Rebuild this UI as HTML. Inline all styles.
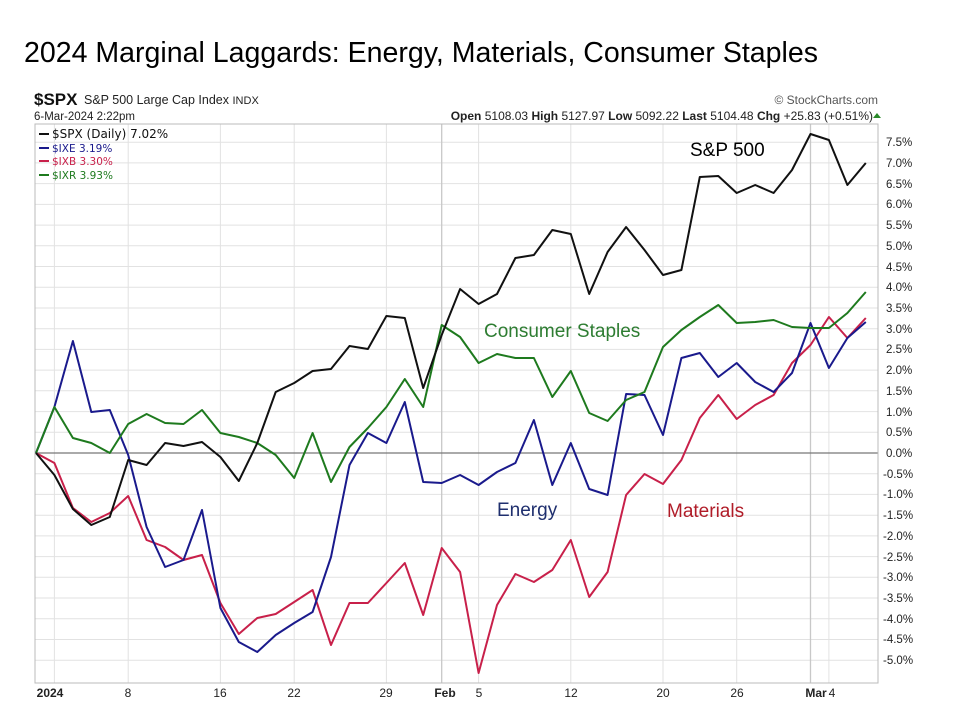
<!DOCTYPE html>
<html><head><meta charset="utf-8"><style>
html,body{margin:0;padding:0;background:#fff;width:960px;height:720px;overflow:hidden}
svg{display:block}
</style></head><body>
<svg width="960" height="720" viewBox="0 0 960 720" xmlns="http://www.w3.org/2000/svg" font-family="Liberation Sans, sans-serif">
<text x="24" y="62" font-size="29" fill="#000" textLength="794" lengthAdjust="spacingAndGlyphs">2024 Marginal Laggards: Energy, Materials, Consumer Staples</text>
<text x="34" y="105" font-size="17" font-weight="bold" fill="#111">$SPX</text>
<text x="84" y="104" font-size="12.5" fill="#222">S&amp;P 500 Large Cap Index <tspan font-size="11">INDX</tspan></text>
<text x="34" y="120" font-size="11.5" fill="#222">6-Mar-2024 2:22pm</text>
<text x="873" y="120" font-size="12" fill="#222" text-anchor="end"><tspan font-weight="bold">Open</tspan> 5108.03 <tspan font-weight="bold">High</tspan> 5127.97 <tspan font-weight="bold">Low</tspan> 5092.22 <tspan font-weight="bold">Last</tspan> 5104.48 <tspan font-weight="bold">Chg</tspan> +25.83 (+0.51%)</text>
<polygon points="873,118 881,118 877,113" fill="#2a8a2a"/>
<text x="878" y="104" font-size="12" fill="#555" text-anchor="end">© StockCharts.com</text>
<g stroke="#e2e2e2" stroke-width="1">
<line x1="35" x2="878" y1="142.2" y2="142.2"/><line x1="35" x2="878" y1="162.9" y2="162.9"/><line x1="35" x2="878" y1="183.6" y2="183.6"/><line x1="35" x2="878" y1="204.4" y2="204.4"/><line x1="35" x2="878" y1="225.1" y2="225.1"/><line x1="35" x2="878" y1="245.8" y2="245.8"/><line x1="35" x2="878" y1="266.5" y2="266.5"/><line x1="35" x2="878" y1="287.2" y2="287.2"/><line x1="35" x2="878" y1="308" y2="308"/><line x1="35" x2="878" y1="328.7" y2="328.7"/><line x1="35" x2="878" y1="349.4" y2="349.4"/><line x1="35" x2="878" y1="370.1" y2="370.1"/><line x1="35" x2="878" y1="390.8" y2="390.8"/><line x1="35" x2="878" y1="411.6" y2="411.6"/><line x1="35" x2="878" y1="432.3" y2="432.3"/>
<line x1="35" x2="878" y1="473.7" y2="473.7"/><line x1="35" x2="878" y1="494.4" y2="494.4"/><line x1="35" x2="878" y1="515.2" y2="515.2"/><line x1="35" x2="878" y1="535.9" y2="535.9"/><line x1="35" x2="878" y1="556.6" y2="556.6"/><line x1="35" x2="878" y1="577.3" y2="577.3"/><line x1="35" x2="878" y1="598" y2="598"/><line x1="35" x2="878" y1="618.8" y2="618.8"/><line x1="35" x2="878" y1="639.5" y2="639.5"/><line x1="35" x2="878" y1="660.2" y2="660.2"/>
<line x1="54.4" x2="54.4" y1="124" y2="683"/><line x1="128.2" x2="128.2" y1="124" y2="683"/><line x1="220.4" x2="220.4" y1="124" y2="683"/><line x1="294.2" x2="294.2" y1="124" y2="683"/><line x1="386.4" x2="386.4" y1="124" y2="683"/><line x1="478.6" x2="478.6" y1="124" y2="683"/><line x1="570.8" x2="570.8" y1="124" y2="683"/><line x1="663" x2="663" y1="124" y2="683"/><line x1="736.7" x2="736.7" y1="124" y2="683"/><line x1="828.9" x2="828.9" y1="124" y2="683"/>
</g>
<g stroke="#c8c8c8" stroke-width="1.3"><line x1="441.7" x2="441.7" y1="124" y2="683"/><line x1="810.5" x2="810.5" y1="124" y2="683"/></g>
<line x1="35" x2="878" y1="453" y2="453" stroke="#777" stroke-width="1.3"/>
<rect x="35" y="124" width="843" height="559" fill="none" stroke="#bbb" stroke-width="1"/>
<g font-size="11.5" fill="#222">
<text x="886" y="146">7.5%</text><text x="886" y="167">7.0%</text><text x="886" y="188">6.5%</text><text x="886" y="208">6.0%</text><text x="886" y="229">5.5%</text><text x="886" y="250">5.0%</text><text x="886" y="271">4.5%</text><text x="886" y="291">4.0%</text><text x="886" y="312">3.5%</text><text x="886" y="333">3.0%</text><text x="886" y="353">2.5%</text><text x="886" y="374">2.0%</text><text x="886" y="395">1.5%</text><text x="886" y="416">1.0%</text><text x="886" y="436">0.5%</text><text x="886" y="457">0.0%</text>
<text x="883" y="478">-0.5%</text><text x="883" y="498">-1.0%</text><text x="883" y="519">-1.5%</text><text x="883" y="540">-2.0%</text><text x="883" y="561">-2.5%</text><text x="883" y="581">-3.0%</text><text x="883" y="602">-3.5%</text><text x="883" y="623">-4.0%</text><text x="883" y="643">-4.5%</text><text x="883" y="664">-5.0%</text>
</g>
<g font-size="12" fill="#222" text-anchor="middle">
<text x="50" y="697" font-weight="bold">2024</text><text x="128" y="697">8</text><text x="220" y="697">16</text><text x="294" y="697">22</text><text x="386" y="697">29</text><text x="445" y="697" font-weight="bold">Feb</text><text x="479" y="697">5</text><text x="571" y="697">12</text><text x="663" y="697">20</text><text x="737" y="697">26</text><text x="816" y="697" font-weight="bold">Mar</text><text x="832" y="697">4</text>
</g>
<g font-size="12" font-family="DejaVu Sans, sans-serif">
<line x1="39" x2="49" y1="134" y2="134" stroke="#111" stroke-width="2"/><text x="52" y="138" fill="#111">$SPX (Daily) 7.02%</text>
<line x1="39" x2="49" y1="148" y2="148" stroke="#1a1a8c" stroke-width="2"/><text x="52" y="152" fill="#1a1a8c" font-size="10.5">$IXE 3.19%</text>
<line x1="39" x2="49" y1="161" y2="161" stroke="#c8204a" stroke-width="2"/><text x="52" y="165" fill="#c8204a" font-size="10.5">$IXB 3.30%</text>
<line x1="39" x2="49" y1="175" y2="175" stroke="#1e7a1e" stroke-width="2"/><text x="52" y="179" fill="#1e7a1e" font-size="10.5">$IXR 3.93%</text>
</g>
<g fill="none" stroke-width="2" stroke-linejoin="round">
<polyline stroke="#c8204a" points="36,453 54.4,463 72.9,508 91.3,522 109.8,513 128.2,496 146.6,540 165.1,547 183.5,560 202,555 220.4,603 238.8,634 257.3,618 275.7,614 294.2,602 312.6,590 331,645 349.5,603 367.9,603 386.4,583 404.8,563 423.2,615 441.7,548 460.1,572 478.6,673 497,605 515.4,574 533.9,582 552.3,570 570.8,540 589.2,597 607.6,572 626.1,495 644.5,474 663,484 681.4,460 699.8,418 718.3,395 736.7,419 755.2,405 773.6,395 792,363 810.5,345 828.9,317 847.4,338 865.8,318"/>
<polyline stroke="#1a1a8c" points="36,453 54.4,407 72.9,341 91.3,412 109.8,410 128.2,455 146.6,527 165.1,567 183.5,560 202,510 220.4,608 238.8,642 257.3,652 275.7,635 294.2,623 312.6,612 331,557 349.5,465 367.9,433 386.4,443 404.8,402 423.2,482 441.7,483 460.1,475 478.6,485 497,472 515.4,463 533.9,420 552.3,485 570.8,443 589.2,489 607.6,495 626.1,394 644.5,395 663,435 681.4,358 699.8,353 718.3,377 736.7,363 755.2,382 773.6,392 792,373 810.5,323 828.9,368 847.4,338 865.8,322"/>
<polyline stroke="#1e7a1e" points="36,453 54.4,407 72.9,438 91.3,443 109.8,453 128.2,424 146.6,414 165.1,423 183.5,424 202,410 220.4,433 238.8,437 257.3,443 275.7,455 294.2,478 312.6,433 331,482 349.5,447 367.9,428 386.4,407 404.8,379 423.2,407 441.7,325 460.1,337 478.6,363 497,354 515.4,358 533.9,358 552.3,397 570.8,371 589.2,413 607.6,421 626.1,400 644.5,392 663,347 681.4,330 699.8,317 718.3,305 736.7,323 755.2,322 773.6,320 792,327 810.5,328 828.9,328 847.4,313 865.8,292"/>
<polyline stroke="#111" points="36,453 54.4,475 72.9,509 91.3,525 109.8,517 128.2,460 146.6,465 165.1,443 183.5,446 202,442 220.4,457 238.8,481 257.3,443 275.7,392 294.2,383 312.6,371 331,369 349.5,346 367.9,349 386.4,316 404.8,318 423.2,388 441.7,335 460.1,289 478.6,304 497,294 515.4,258 533.9,255 552.3,230 570.8,234 589.2,294 607.6,252 626.1,227 644.5,250 663,275 681.4,270 699.8,177 718.3,176 736.7,193 755.2,185 773.6,193 792,170 810.5,134 828.9,140 847.4,185 865.8,163"/>
</g>
<g font-size="19">
<text x="690" y="156" fill="#000">S&amp;P 500</text>
<text x="484" y="337" fill="#2e7d32">Consumer Staples</text>
<text x="497" y="516" fill="#1f2f6e">Energy</text>
<text x="667" y="517" fill="#b01c28">Materials</text>
</g>
</svg>
</body></html>
